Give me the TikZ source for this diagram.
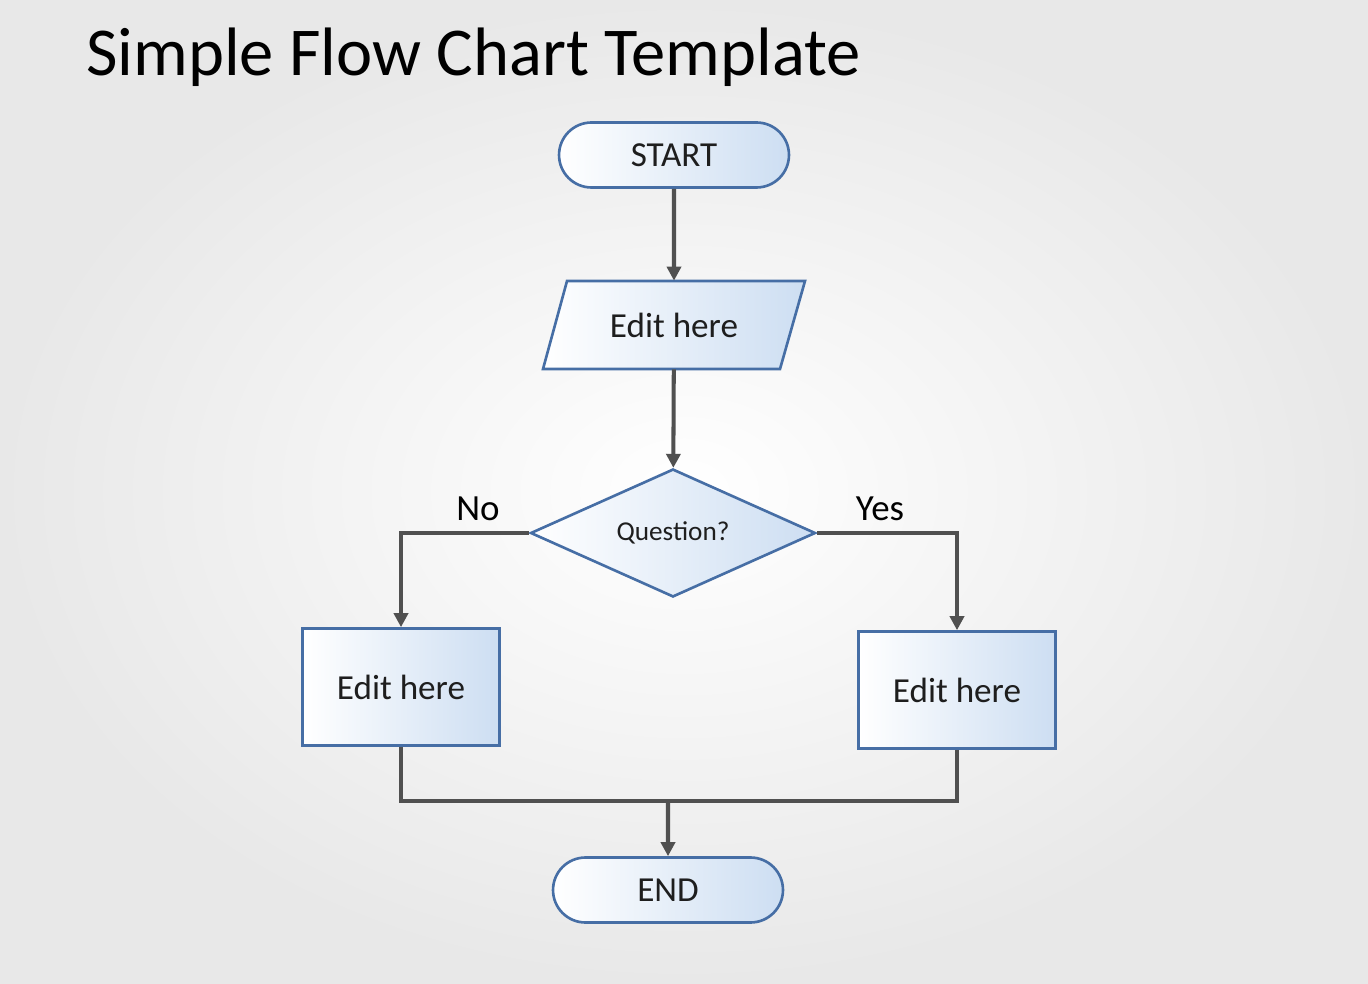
\documentclass[tikz,border=0pt]{standalone}
\usepackage{fontspec}
\setmainfont{Carlito}
\definecolor{edgeblue}{RGB}{70, 110, 165}
\definecolor{fillblue}{RGB}{205, 222, 242}
\definecolor{linegray}{RGB}{80, 80, 80}
\definecolor{textgray}{RGB}{30, 30, 30}
\usetikzlibrary{shapes, arrows.meta, positioning, calc}

\tikzset{
  shape box/.style={draw=edgeblue, line width=1.5pt, left color=white, right color=fillblue,
    text=textgray, font=\fontsize{20}{22}\selectfont, inner sep=0pt},
  terminal/.style={shape box, rounded rectangle, minimum width=4.6cm, minimum height=1.3cm},
  io/.style={rectangle, text=textgray, font=\fontsize{20}{22}\selectfont,
    minimum width=4.76cm, minimum height=1.76cm},
  decision/.style={shape box, diamond, aspect=2.2, minimum width=5.7cm, minimum height=2.56cm,
    font=\fontsize{15.5}{17}\selectfont},
  process/.style={shape box, rectangle, minimum width=3.94cm, minimum height=2.34cm},
  flow/.style={linegray, line width=2.3pt, -{Triangle[length=8pt, width=8pt]}},
  merge line/.style={linegray, line width=2.3pt},
  branch/.style={font=\fontsize{21}{23}\selectfont, text=black}
}

\begin{document}
\begin{tikzpicture}[x=0.02cm, y=-0.02cm]
  % background
  \shade[inner color=white, outer color=black!9] (0,0) rectangle (1368,983);
  \useasboundingbox (0,0) rectangle (1368,983);

  % title
  \node[anchor=west, font=\fontsize{39}{44}\selectfont, text=black] (title) at (80,57) {Simple Flow Chart Template};

  % shapes
  \node[terminal] (start) at (674,155) {START};
  \shade[draw=edgeblue, line width=1.5pt, left color=white, right color=fillblue]
    (543,369) -- (567,281) -- (805,281) -- (780,369) -- cycle; % parallelogram
  \node[io] (input) at (674,325) {Edit here};
  \node[decision] (quest) at (673,533) {Question?};
  \node[process] (no box) at (401,687) {Edit here};
  \node[process] (yes box) at (957,690) {Edit here};
  \node[terminal] (end) at (668,890) {END};

  % connectors
  \coordinate (merge) at (668,801);
  \draw[flow] (start) -- (input);
  \draw[flow] (input) -- (quest);
  \draw[flow] (quest.west) -| (no box.north);
  \draw[flow] (quest.east) -| (yes box.north);
  \draw[merge line] (no box.south) |- (merge);
  \draw[merge line] (yes box.south) |- (merge);
  \draw[flow] (merge) -- (end);

  % branch labels
  \node[branch] (no label) at (478,509) {No};
  \node[branch] (yes label) at (880,509) {Yes};
\end{tikzpicture}
\end{document}
